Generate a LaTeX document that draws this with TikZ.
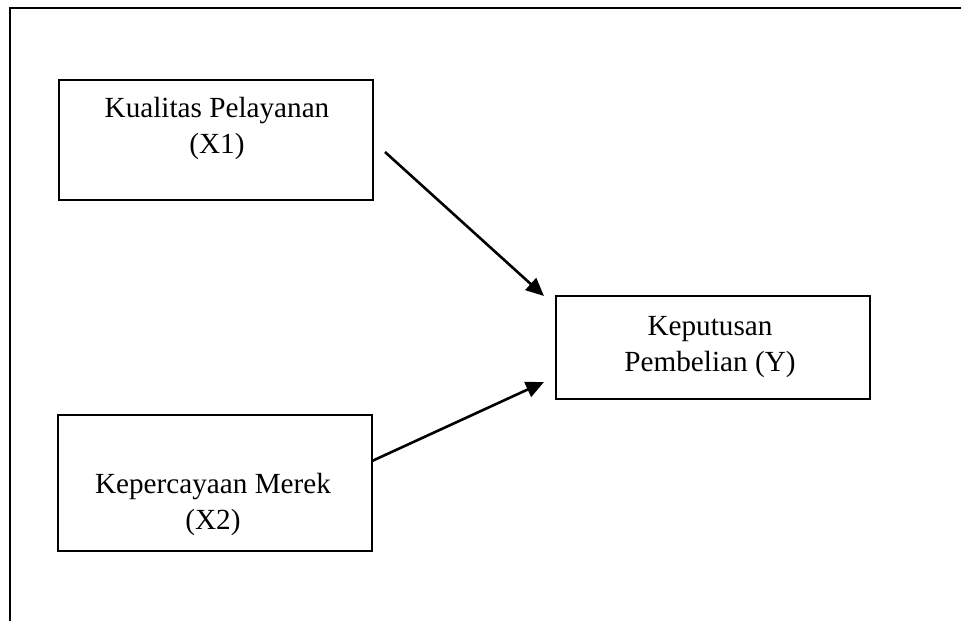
\documentclass[tikz,border=0pt]{standalone}
\usepackage{fontspec}
\setmainfont{Liberation Serif}
\usetikzlibrary{arrows.meta}
\begin{document}
\begin{tikzpicture}[x=0.5pt,y=-0.5pt,
  box/.style={draw,line width=1pt,inner sep=0pt,anchor=north west},
  lbl/.style={align=center,font=\fontsize{14.6pt}{18pt}\selectfont,inner sep=0pt,anchor=base},
  arr/.style={line width=1.3pt,-{Triangle[length=9pt,width=8pt]}}]
\useasboundingbox (0,0) rectangle (961,621);
% open outer frame
\coordinate (fb) at (10,621);
\coordinate (ftl) at (10,8);
\coordinate (fr) at (961,8);
\draw[line width=1pt] (fb) -- (ftl) -- (fr);
% boxes
\node[box,minimum width=157pt,minimum height=60pt] (X1) at (58,79) {};
\node[box,minimum width=157pt,minimum height=68pt] (X2) at (57,414) {};
\node[box,minimum width=157pt,minimum height=51.5pt] (Y) at (555,295) {};
% labels (anchor base = baseline of last line)
\node[lbl] (tX1) at (217,153) {Kualitas Pelayanan\\(X1)};
\node[lbl] (tX2) at (213,529) {Kepercayaan Merek\\(X2)};
\node[lbl] (tY) at (710,371) {Keputusan\\Pembelian (Y)};
% arrows
\coordinate (s1) at (385,152);
\coordinate (e1) at (544,296);
\coordinate (s2) at (372,461);
\coordinate (e2) at (544,382);
\draw[arr] (s1) -- (e1);
\draw[arr] (s2) -- (e2);
\end{tikzpicture}
\end{document}
